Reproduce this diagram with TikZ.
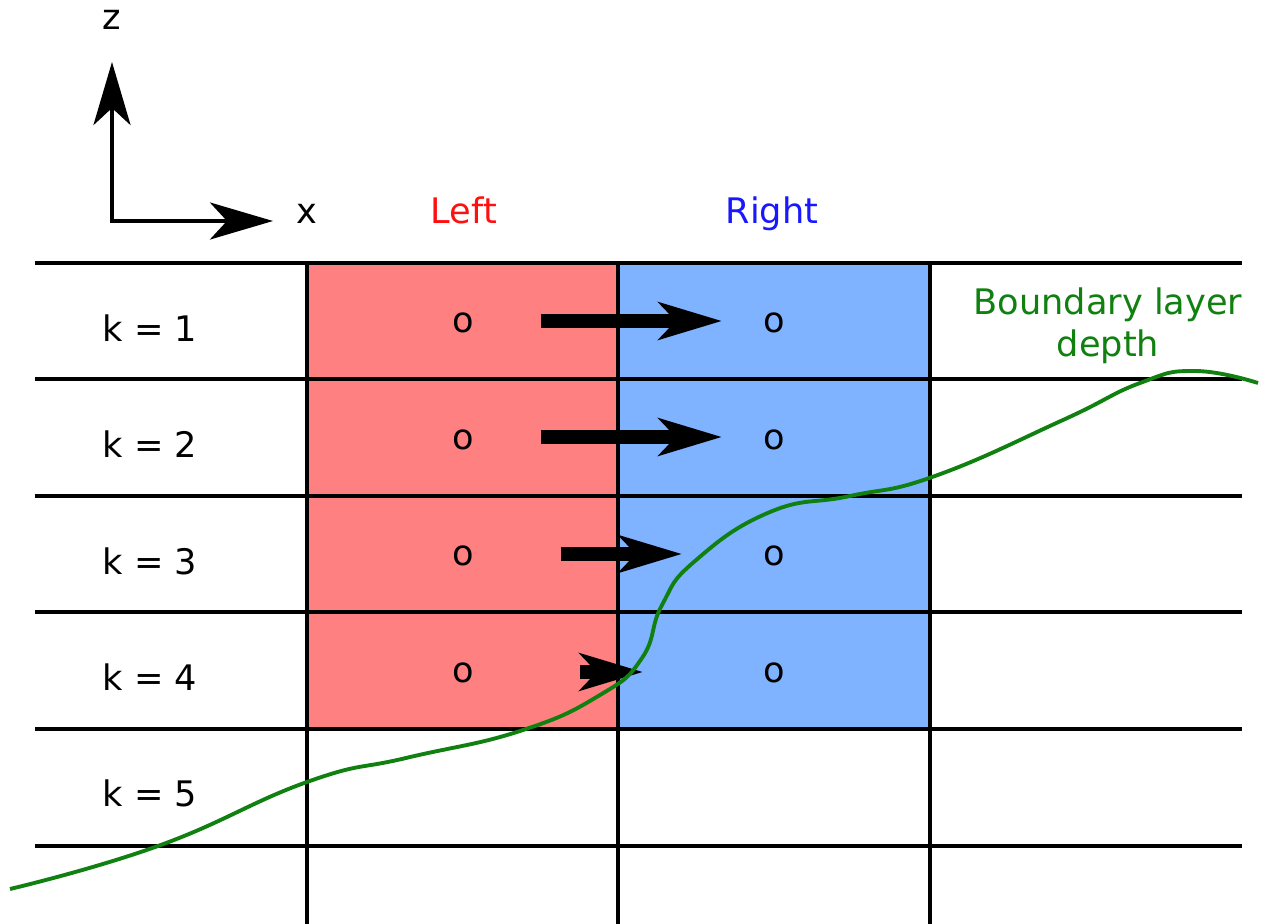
\documentclass[tikz,border=0pt]{standalone}
\usepackage{fontspec}
\setmainfont{DejaVu Sans}
\usetikzlibrary{arrows.meta}
\definecolor{leftfill}{RGB}{255,128,128}
\definecolor{rightfill}{RGB}{128,179,255}
\definecolor{lefttext}{RGB}{255,16,16}
\definecolor{righttext}{RGB}{24,24,255}
\definecolor{bldepth}{RGB}{16,128,16}

\begin{document}
\begin{tikzpicture}[x={(0.01cm,0)}, y={(0,-0.01cm)}, font=\fontsize{10}{12}\selectfont]
  \tikzstyle{gridline} = [line width=1.1pt]
  \tikzstyle{flux} = [line width=4pt, -{Stealth[length=6.3mm, width=3.7mm, inset=1.7mm]}]
  \tikzstyle{axis} = [line width=1.1pt, {Stealth[length=6.3mm, width=3.7mm, inset=1.7mm]}-{Stealth[length=6.3mm, width=3.7mm, inset=1.7mm]}]
  \useasboundingbox (0,0) rectangle (1262,924);
  \fill[leftfill] (307,263) rectangle (618,729);
  \fill[rightfill] (618,263) rectangle (930,729);
  \foreach \y in {263,379,496,612,729,846}
    \draw[gridline] (35,\y) -- (1242,\y);
  \foreach \x in {307,618,930}
    \draw[gridline] (\x,263) -- (\x,924);
  \coordinate (origin) at (112,221);
  \coordinate (ztip) at (112,62);
  \coordinate (xtip) at (273,221);
  \draw[axis] (ztip) -- (origin) -- (xtip);
  \node (z) at (112,20) {z};
  \node (x) at (307,214) {x};
  \node[lefttext, anchor=base] (left) at (464,223) {Left};
  \node[righttext, anchor=base] (right) at (772,223) {Right};
  \foreach \k/\y in {1/341,2/458,3/574,4/691,5/807}
    \node[anchor=base] (k\k) at (150,\y) {k = \k};
  \foreach \k/\y in {1/323,2/440,3/556,4/673} {
    \node (l\k) at (463,\y) {o};
    \node (r\k) at (774,\y) {o};
  }
  \coordinate (f1s) at (541,321);
  \coordinate (f1e) at (722,321);
  \coordinate (f2s) at (541,437);
  \coordinate (f2e) at (722,437);
  \coordinate (f3s) at (561,554);
  \coordinate (f3e) at (682,554);
  \coordinate (f4s) at (580,672);
  \coordinate (f4e) at (643,672);
  \draw[flux] (f1s) -- (f1e);
  \draw[flux] (f2s) -- (f2e);
  \draw[flux] (f3s) -- (f3e);
  \draw[flux] (f4s) -- (f4e);
  \draw[bldepth, line width=1.1pt] plot[smooth, tension=0.8] coordinates {
    (10,889) (158,846) (307,782) (406,758) (520,731) (600,695)
    (642,658) (662,605) (695,561) (770,512) (850,496) (935,476)
    (1063,420) (1140,383) (1195,371) (1258,383)};
  \node[bldepth, align=center] (bl) at (1108,326) {Boundary layer\\depth};
\end{tikzpicture}
\end{document}
